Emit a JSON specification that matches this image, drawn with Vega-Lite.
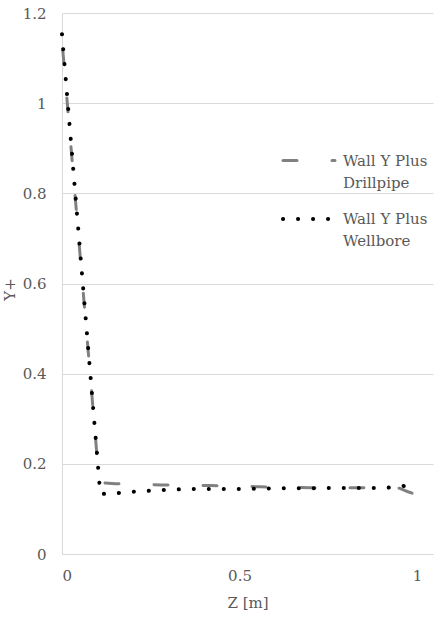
{
  "$schema": "https://vega.github.io/schema/vega-lite/v6.json",
  "width": 371,
  "height": 541,
  "autosize": {"type": "none"},
  "padding": {"left": 62, "top": 13, "right": 6, "bottom": 63},
  "background": "white",
  "config": {"view": {"stroke": null}, "font": "DejaVu Serif"},
  "data": {
    "values": [
      {"series": "Wall Y Plus Drillpipe", "z": 0.002, "yplus": 1.12},
      {"series": "Wall Y Plus Drillpipe", "z": 0.105, "yplus": 0.158},
      {"series": "Wall Y Plus Drillpipe", "z": 0.15, "yplus": 0.156},
      {"series": "Wall Y Plus Drillpipe", "z": 0.28, "yplus": 0.153},
      {"series": "Wall Y Plus Drillpipe", "z": 0.42, "yplus": 0.152},
      {"series": "Wall Y Plus Drillpipe", "z": 0.56, "yplus": 0.149},
      {"series": "Wall Y Plus Drillpipe", "z": 0.7, "yplus": 0.147},
      {"series": "Wall Y Plus Drillpipe", "z": 0.85, "yplus": 0.147},
      {"series": "Wall Y Plus Drillpipe", "z": 0.95, "yplus": 0.146},
      {"series": "Wall Y Plus Drillpipe", "z": 0.975, "yplus": 0.138},
      {"series": "Wall Y Plus Drillpipe", "z": 1.0, "yplus": 0.131},
      {"series": "Wall Y Plus Wellbore", "z": 0.0, "yplus": 1.153},
      {"series": "Wall Y Plus Wellbore", "z": 0.108, "yplus": 0.133},
      {"series": "Wall Y Plus Wellbore", "z": 0.155, "yplus": 0.135},
      {"series": "Wall Y Plus Wellbore", "z": 0.2, "yplus": 0.138},
      {"series": "Wall Y Plus Wellbore", "z": 0.24, "yplus": 0.14},
      {"series": "Wall Y Plus Wellbore", "z": 0.28, "yplus": 0.142},
      {"series": "Wall Y Plus Wellbore", "z": 0.35, "yplus": 0.144},
      {"series": "Wall Y Plus Wellbore", "z": 0.5, "yplus": 0.144},
      {"series": "Wall Y Plus Wellbore", "z": 0.6, "yplus": 0.1456},
      {"series": "Wall Y Plus Wellbore", "z": 0.75, "yplus": 0.1463},
      {"series": "Wall Y Plus Wellbore", "z": 0.9, "yplus": 0.1463},
      {"series": "Wall Y Plus Wellbore", "z": 0.95, "yplus": 0.149},
      {"series": "Wall Y Plus Wellbore", "z": 0.975, "yplus": 0.153},
      {"series": "Wall Y Plus Wellbore", "z": 1.0, "yplus": 0.155}
    ]
  },
  "mark": {"type": "line", "strokeCap": "round", "strokeJoin": "round"},
  "encoding": {
    "x": {
      "field": "z",
      "type": "quantitative",
      "scale": {"domain": [0, 1.045], "nice": false, "zero": false},
      "axis": {
        "values": [0, 0.5, 1],
        "format": "~g",
        "title": "Z [m]",
        "grid": false,
        "ticks": false,
        "domainColor": "#d9d9d9",
        "domainWidth": 1,
        "labelColor": "#595959",
        "labelFontSize": 15,
        "labelFont": "DejaVu Serif",
        "labelPadding": 14,
        "titleFont": "DejaVu Serif",
        "titleFontSize": 15,
        "titleColor": "#595959",
        "titleFontWeight": "normal",
        "titlePadding": 12
      }
    },
    "y": {
      "field": "yplus",
      "type": "quantitative",
      "scale": {"domain": [0, 1.2], "nice": false, "zero": true},
      "axis": {
        "values": [0, 0.2, 0.4, 0.6, 0.8, 1, 1.2],
        "format": "~g",
        "title": "Y+",
        "grid": true,
        "gridColor": "#d9d9d9",
        "gridWidth": 1,
        "ticks": false,
        "domainColor": "#d9d9d9",
        "domainWidth": 1,
        "labelColor": "#595959",
        "labelFontSize": 15,
        "labelFont": "DejaVu Serif",
        "labelPadding": 16,
        "titleFont": "DejaVu Serif",
        "titleFontSize": 15,
        "titleColor": "#595959",
        "titleFontWeight": "normal",
        "titleX": -53,
        "titleY": 276,
        "titleAngle": -90,
        "titleBaseline": "middle",
        "titleAlign": "center"
      }
    },
    "color": {
      "field": "series",
      "type": "nominal",
      "scale": {"domain": ["Wall Y Plus Drillpipe", "Wall Y Plus Wellbore"], "range": ["#808080", "#000000"]},
      "legend": {
        "orient": "none",
        "legendX": 219,
        "legendY": 120,
        "title": null,
        "padding": 0,
        "symbolType": "stroke",
        "symbolSize": 2704,
        "symbolStrokeWidth": 3.5,
        "labelFontSize": 15,
        "labelFont": "DejaVu Serif",
        "labelColor": "#595959",
        "labelOffset": 6,
        "labelLimit": 0,
        "rowPadding": -8,
        "labelExpr": "[slice(datum.label, 0, 11), slice(datum.label, 12)]",
        "encoding": {
          "labels": {"lineHeight": {"value": 22}},
          "symbols": {"strokeCap": {"value": "round"}}
        }
      }
    },
    "strokeDash": {
      "field": "series",
      "type": "nominal",
      "scale": {"domain": ["Wall Y Plus Drillpipe", "Wall Y Plus Wellbore"], "range": [[14, 35], [0.1, 14.9]]}
    },
    "strokeWidth": {
      "field": "series",
      "type": "ordinal",
      "scale": {"domain": ["Wall Y Plus Drillpipe", "Wall Y Plus Wellbore"], "range": [3, 4]}
    }
  }
}
